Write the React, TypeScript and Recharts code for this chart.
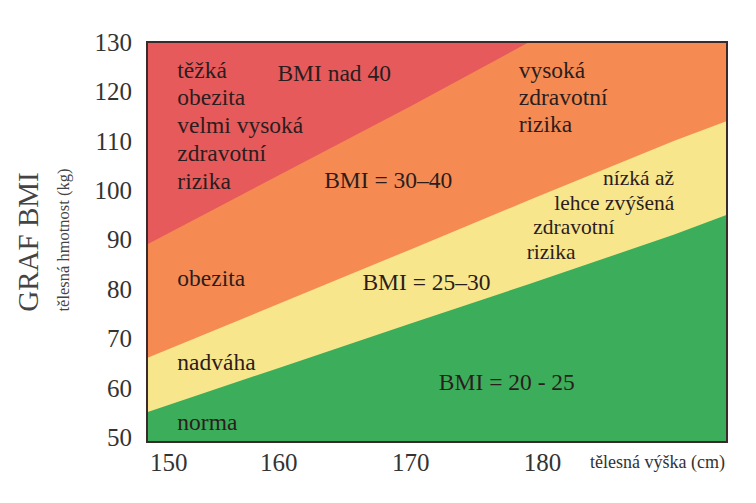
import {
  Area,
  CartesianGrid,
  ComposedChart,
  Label,
  ReferenceArea,
  ReferenceDot,
  XAxis,
  YAxis,
} from "recharts";

// height in cm
const heights = [150, 160, 170, 179, 190, 194];
// weight (kg) at the upper edge of each band
const bmi40Line = [89, 103, 117, 130, 130, 130];
const bmi30Line = [66, 77, 88, 98, 110, 114];
const bmi25Line = [55, 64, 73, 81, 91, 95];

const xTicks = [150, 160, 170, 180];
const yTicks = [50, 60, 70, 80, 90, 100, 110, 120, 130];

const noteH = [152.3, 152.3, 152.3, 152.3, 152.3, 164.2, 178.2, 178.2, 178.2, 168.3, 184.6, 180.9, 179.3, 178.8, 152.3, 171.2, 152.3, 177.3, 152.3];
const noteW = [124.3, 118.9, 113.3, 107.5, 101.9, 123.7, 124.3, 118.9, 113.4, 102.1, 102.6, 97.6, 92.7, 87.6, 82.2, 81.4, 65.2, 61.2, 53.1];
const noteText = [
  "těžká",
  "obezita",
  "velmi vysoká",
  "zdravotní",
  "rizika",
  "BMI nad 40",
  "vysoká",
  "zdravotní",
  "rizika",
  "BMI = 30–40",
  "nízká až",
  "lehce zvýšená",
  "zdravotní",
  "rizika",
  "obezita",
  "BMI = 25–30",
  "nadváha",
  "BMI = 20 - 25",
  "norma",
];
const noteCentered = [5, 9, 15, 17];
const noteSmall = [10, 11, 12, 13];

const data = heights.map((h, i) => ({
  h,
  obese: bmi40Line[i],
  over: bmi30Line[i],
  normal: bmi25Line[i],
}));

const serif = "Liberation Serif";

function XTick(props: any) {
  const { x, y, payload } = props;
  const first = payload.value === 150;
  return (
    <text
      x={first ? x + 3 : x}
      y={y}
      dy="0.71em"
      textAnchor={first ? "start" : "middle"}
      fill="#333"
      fontSize={25}
      style={{ fontFamily: serif }}
    >
      {payload.value}
    </text>
  );
}

function YTitle(props: any) {
  const vb = props.viewBox;
  const cy = vb.y + 200;
  return (
    <g style={{ fontFamily: serif }}>
      <text
        x={vb.x + 28}
        y={cy}
        transform={`rotate(-90 ${vb.x + 28} ${cy})`}
        textAnchor="middle"
        dominantBaseline="central"
        fill="#444"
        fontSize={29}
      >
        GRAF BMI
      </text>
      <text
        x={vb.x + 63}
        y={cy - 2}
        transform={`rotate(-90 ${vb.x + 63} ${cy - 2})`}
        textAnchor="middle"
        dominantBaseline="central"
        fill="#444"
        fontSize={16.5}
      >
        tělesná hmotnost (kg)
      </text>
    </g>
  );
}

export default function App() {
  return (
    <div
      style={{
        position: "absolute",
        left: 0,
        top: 0,
        background: "#fff",
        fontFamily: serif,
      }}
    >
      <ComposedChart
        width={756}
        height={503}
        data={data}
        margin={{ top: 42, right: 29, bottom: 21, left: 0 }}
        style={{ fontFamily: serif }}
      >
        <CartesianGrid horizontal={false} vertical={false} fill="#e65a5c" />
        <XAxis
          dataKey="h"
          type="number"
          domain={[150, 194]}
          ticks={xTicks}
          height={40}
          tickSize={11}
          tickMargin={0}
          tickLine={false}
          axisLine={false}
          tick={<XTick />}
          allowDataOverflow
        >
          <Label
            value="tělesná výška (cm)"
            position="insideRight"
            offset={2}
            fill="#333"
            fontSize={18}
            fontFamily={serif}
          />
        </XAxis>
        <YAxis
          type="number"
          domain={[49, 130]}
          ticks={yTicks}
          width={147}
          tickSize={15}
          tickMargin={0}
          tickLine={false}
          axisLine={false}
          tick={{ fill: "#333", fontSize: 25, fontFamily: serif }}
          allowDataOverflow
        >
          <Label content={<YTitle />} />
        </YAxis>
        <Area
          type="linear"
          dataKey="obese"
          stroke="none"
          fill="#f58b52"
          fillOpacity={1}
          baseValue="dataMin"
          isAnimationActive={false}
        />
        <Area
          type="linear"
          dataKey="over"
          stroke="none"
          fill="#f8e68c"
          fillOpacity={1}
          baseValue="dataMin"
          isAnimationActive={false}
        />
        <Area
          type="linear"
          dataKey="normal"
          stroke="none"
          fill="#3bad5b"
          fillOpacity={1}
          baseValue="dataMin"
          isAnimationActive={false}
        />
        <ReferenceArea
          x1={150}
          x2={194}
          y1={49}
          y2={130}
          fill="none"
          fillOpacity={0}
          stroke="#3a2a2a"
          strokeWidth={2}
        />
        {noteText.map((t, i) => (
          <ReferenceDot
            key={i}
            x={noteH[i]}
            y={noteW[i]}
            r={0}
            fill="none"
            stroke="none"
            label={{
              value: t,
              position: noteCentered.includes(i) ? "center" : "right",
              offset: 0,
              fill: "#2b1d1d",
              fontSize: noteSmall.includes(i) ? 21.5 : 23.5,
              fontFamily: serif,
            }}
          />
        ))}
      </ComposedChart>
    </div>
  );
}
